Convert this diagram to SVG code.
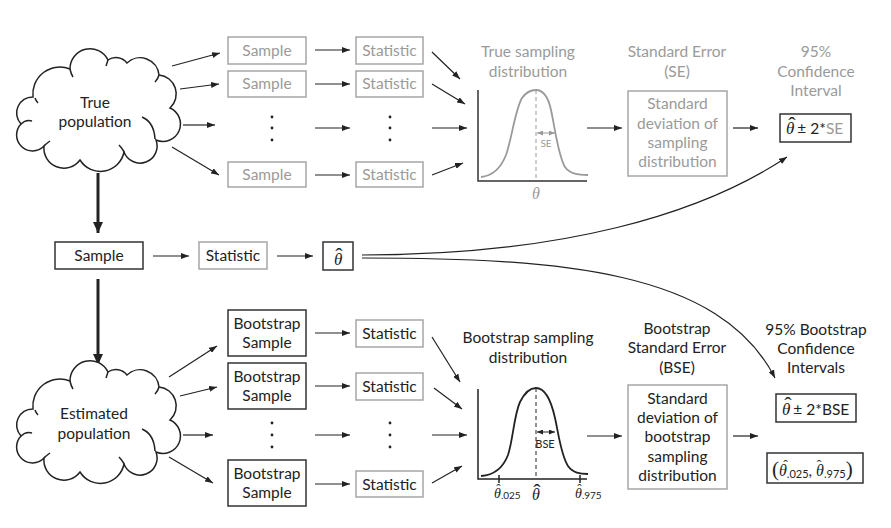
<svg xmlns="http://www.w3.org/2000/svg" width="891" height="528" viewBox="0 0 891 528">
<style>
text{font-family:Lato,"Open Sans","Liberation Sans",sans-serif;font-size:15.5px;text-anchor:middle;fill:#222}
.s{text-anchor:start}
.g{fill:#9a9a9a}
.m{font-family:"Liberation Serif","DejaVu Serif",serif;font-style:italic}
.h{font-family:"Liberation Serif","DejaVu Serif",serif;font-style:normal;font-size:22px}
.bx{fill:#fff;stroke:#333;stroke-width:1.5}
.gb{fill:#fff;stroke:#a6a6a6;stroke-width:1.5}
.ln{stroke:#222;stroke-width:1.2;fill:none;marker-end:url(#a)}
.tk{stroke:#222;stroke-width:3;fill:none;marker-end:url(#at)}
.cl{fill:#fff;stroke:#222;stroke-width:1.5}
.ci{fill:none;stroke:#222;stroke-width:1.5}
</style>
<defs>
<marker id="a" markerUnits="userSpaceOnUse" markerWidth="8" markerHeight="6" refX="8" refY="3" orient="auto"><path d="M0,0L8,3L0,6z" fill="#222"/></marker>
<marker id="at" markerUnits="userSpaceOnUse" markerWidth="11" markerHeight="10" refX="11" refY="5" orient="auto"><path d="M0,0L11,5L0,10z" fill="#222"/></marker>
<marker id="sg" markerUnits="userSpaceOnUse" markerWidth="6" markerHeight="5" refX="6" refY="2.5" orient="auto-start-reverse"><path d="M0,0L6,2.5L0,5z" fill="#9a9a9a"/></marker>
<marker id="sb" markerUnits="userSpaceOnUse" markerWidth="6" markerHeight="5" refX="6" refY="2.5" orient="auto-start-reverse"><path d="M0,0L6,2.5L0,5z" fill="#222"/></marker>
<g id="cloudshape">
<path class="cl" d="M33,97 A27,27 0 0 1 70,69 A20,20 0 0 1 108,60 A14,14 0 0 1 127,63 A19,19 0 0 1 159,75 A19,19 0 0 1 170,108 A17,17 0 0 1 156,140 A17,17 0 0 1 124,152 A24,24 0 0 1 80,160 A20,20 0 0 1 44,146 A15,15 0 0 1 21,124 A16,16 0 0 1 33,97 Z"/>
<path class="ci" d="M142,117 Q154,122 155,139"/>
<path class="ci" d="M21,124 Q26,119 32,121"/>
<path class="ci" d="M70,69 Q71,74 73,77"/>
<path class="ci" d="M108,60 Q107,63 106,66"/>
<path class="ci" d="M159,75 Q158,79 155,82"/>
<path class="ci" d="M44,146 Q47,143 50,141"/>
<path class="ci" d="M124,152 Q122,148 119,145"/>
<path class="ci" d="M35,98 Q36,101 38,103"/>
</g>
</defs>

<g id="connectors">
<line class="ln" x1="172" y1="66" x2="220" y2="53"/>
<line class="ln" x1="180" y1="89" x2="219" y2="84"/>
<line class="ln" x1="183" y1="125" x2="215" y2="125"/>
<line class="ln" x1="172" y1="147" x2="219" y2="175"/>
<line class="ln" x1="315" y1="50" x2="350" y2="50"/>
<line class="ln" x1="315" y1="84" x2="350" y2="84"/>
<line class="ln" x1="315" y1="128" x2="350" y2="128"/>
<line class="ln" x1="315" y1="175" x2="350" y2="175"/>
<line class="ln" x1="432" y1="52" x2="460" y2="79"/>
<line class="ln" x1="432" y1="84" x2="465" y2="104"/>
<line class="ln" x1="432" y1="128" x2="467" y2="128"/>
<line class="ln" x1="432" y1="175" x2="463" y2="163"/>
<line class="ln" x1="587" y1="128" x2="622" y2="128"/>
<line class="ln" x1="733" y1="128" x2="758" y2="128"/>
<line class="tk" x1="98" y1="173" x2="98" y2="233"/>
<line class="ln" x1="153" y1="256" x2="189" y2="256"/>
<line class="ln" x1="277" y1="256" x2="313" y2="256"/>
<line class="tk" x1="98" y1="279" x2="98" y2="365"/>
<path class="ln" d="M362,255 C560,255 700,215 787,157"/>
<path class="ln" d="M362,258 C560,258 720,270 775,378"/>
<line class="ln" x1="169" y1="377" x2="217" y2="346"/>
<line class="ln" x1="180" y1="396" x2="217" y2="387"/>
<line class="ln" x1="183" y1="435" x2="213" y2="435"/>
<line class="ln" x1="169" y1="457" x2="213" y2="483"/>
<line class="ln" x1="315" y1="333" x2="350" y2="333"/>
<line class="ln" x1="315" y1="386" x2="350" y2="386"/>
<line class="ln" x1="315" y1="435" x2="350" y2="435"/>
<line class="ln" x1="315" y1="484" x2="350" y2="484"/>
<line class="ln" x1="432" y1="337" x2="460" y2="382"/>
<line class="ln" x1="434" y1="388" x2="462" y2="409"/>
<line class="ln" x1="432" y1="435" x2="467" y2="435"/>
<line class="ln" x1="432" y1="483" x2="462" y2="466"/>
<line class="ln" x1="587" y1="436" x2="622" y2="436"/>
<line class="ln" x1="733" y1="436" x2="758" y2="436"/>
</g>

<g id="true-population">
<use href="#cloudshape"/>
<text x="95" y="108">True</text>
<text x="95" y="127">population</text>
</g>
<g id="estimated-population">
<use href="#cloudshape" transform="translate(0,312)"/>
<text x="94" y="419">Estimated</text>
<text x="94" y="439">population</text>
</g>

<g id="top-samples">
<rect class="gb" x="228" y="37" width="78" height="27"/><text class="g" x="267" y="56">Sample</text>
<rect class="gb" x="228" y="71" width="78" height="26"/><text class="g" x="267" y="89">Sample</text>
<rect class="gb" x="228" y="162" width="78" height="25"/><text class="g" x="267" y="180">Sample</text>
<circle cx="272" cy="117" r="1.4" fill="#222"/><circle cx="272" cy="128" r="1.4" fill="#222"/><circle cx="272" cy="140" r="1.4" fill="#222"/>
</g>
<g id="top-statistics">
<rect class="gb" x="356" y="37" width="67" height="27"/><text class="g" x="389.5" y="56">Statistic</text>
<rect class="gb" x="356" y="71" width="67" height="26"/><text class="g" x="389.5" y="89">Statistic</text>
<rect class="gb" x="356" y="162" width="67" height="25"/><text class="g" x="389.5" y="180">Statistic</text>
<circle cx="390" cy="117" r="1.4" fill="#222"/><circle cx="390" cy="128" r="1.4" fill="#222"/><circle cx="390" cy="140" r="1.4" fill="#222"/>
</g>

<g id="true-sampling-distribution">
<text class="g" x="528" y="57">True sampling</text>
<text class="g" x="528" y="77">distribution</text>
<path d="M481,177 C492,176 500,170 506,155 C512,138 515,110 522,98 C527,91 532,90 536,90 C543,90 548,96 551,110 C555,128 558,155 565,167 C570,174 578,175 588,175" fill="none" stroke="#9a9a9a" stroke-width="1.8"/>
<line x1="536" y1="90" x2="536" y2="181" stroke="#9a9a9a" stroke-width="1" stroke-dasharray="4,3"/>
<path d="M478,90 V181 H587" fill="none" stroke="#333" stroke-width="1.5"/>
<line x1="537" y1="133" x2="555" y2="133" stroke="#9a9a9a" stroke-width="1" marker-start="url(#sg)" marker-end="url(#sg)"/>
<text class="g" x="546" y="147" style="font-size:10px">SE</text>
<text class="g m" x="536" y="199" style="font-size:16px">θ</text>
</g>

<g id="standard-error">
<text class="g" x="677" y="57">Standard Error</text>
<text class="g" x="677" y="77">(SE)</text>
<rect class="gb" x="628" y="91" width="99" height="85"/>
<text class="g" x="677.5" y="109">Standard</text>
<text class="g" x="677.5" y="129">deviation of</text>
<text class="g" x="677.5" y="148">sampling</text>
<text class="g" x="677.5" y="167">distribution</text>
</g>

<g id="confidence-interval">
<text class="g" x="816" y="57">95%</text>
<text class="g" x="816" y="77">Confidence</text>
<text class="g" x="816" y="96">Interval</text>
<rect class="bx" x="780" y="114" width="71" height="28"/>
<text class="s" x="786" y="134"><tspan class="m" style="font-size:17px">θ</tspan><tspan dx="3">± 2*</tspan><tspan class="g">SE</tspan><tspan class="h" x="788.3" y="131.5">ˆ</tspan></text>
</g>

<g id="sample">
<rect class="bx" x="55" y="242" width="88" height="27"/>
<text x="99" y="261">Sample</text>
</g>
<g id="statistic">
<rect class="gb" x="199" y="242" width="68" height="27"/>
<text x="233" y="261">Statistic</text>
</g>
<g id="theta-hat">
<rect class="bx" x="323" y="242" width="30" height="28"/>
<text class="s" x="334" y="265"><tspan class="m" style="font-size:17px">θ</tspan><tspan class="h" x="335.3" y="263">ˆ</tspan></text>
</g>

<g id="bootstrap-samples">
<rect class="bx" x="228" y="310" width="78" height="46"/><text x="267" y="329">Bootstrap</text><text x="267" y="348">Sample</text>
<rect class="bx" x="228" y="363" width="78" height="46"/><text x="267" y="382">Bootstrap</text><text x="267" y="401">Sample</text>
<rect class="bx" x="228" y="460" width="78" height="46"/><text x="267" y="479">Bootstrap</text><text x="267" y="498">Sample</text>
<circle cx="272" cy="423" r="1.4" fill="#222"/><circle cx="272" cy="435" r="1.4" fill="#222"/><circle cx="272" cy="447" r="1.4" fill="#222"/>
</g>
<g id="bootstrap-statistics">
<rect class="gb" x="356" y="320" width="67" height="27"/><text x="389.5" y="339">Statistic</text>
<rect class="gb" x="356" y="373" width="67" height="27"/><text x="389.5" y="392">Statistic</text>
<rect class="gb" x="356" y="471" width="67" height="26"/><text x="389.5" y="490">Statistic</text>
<circle cx="390" cy="423" r="1.4" fill="#222"/><circle cx="390" cy="435" r="1.4" fill="#222"/><circle cx="390" cy="447" r="1.4" fill="#222"/>
</g>

<g id="bootstrap-sampling-distribution">
<text x="528" y="343">Bootstrap sampling</text>
<text x="528" y="363">distribution</text>
<path d="M481,476 C495,475 503,468 508,455 C513,440 514,415 520,402 C525,392 530,388 536,388 C545,388 551,400 555,418 C559,436 561,455 568,466 C573,473 580,474 588,474" fill="none" stroke="#222" stroke-width="1.8"/>
<line x1="536" y1="388" x2="536" y2="479" stroke="#222" stroke-width="1" stroke-dasharray="4,3"/>
<path d="M478,389 V479 H587" fill="none" stroke="#222" stroke-width="1.5"/>
<line x1="499" y1="475" x2="499" y2="483" stroke="#222" stroke-width="1.5"/>
<line x1="580" y1="475" x2="580" y2="483" stroke="#222" stroke-width="1.5"/>
<line x1="537" y1="432" x2="555" y2="432" stroke="#222" stroke-width="1" marker-start="url(#sb)" marker-end="url(#sb)"/>
<text x="545" y="448" style="font-size:11px">BSE</text>
<text class="s" x="494" y="498"><tspan class="m" style="font-size:14px">θ</tspan><tspan dy="1" style="font-size:10px">.025</tspan><tspan class="h" x="496.3" y="493" style="font-size:13px">ˆ</tspan></text>
<text class="s" x="532" y="500"><tspan class="m" style="font-size:16px">θ</tspan><tspan class="h" x="533.3" y="499">ˆ</tspan></text>
<text class="s" x="575" y="498"><tspan class="m" style="font-size:14px">θ</tspan><tspan dy="1" style="font-size:10px">.975</tspan><tspan class="h" x="577.3" y="493" style="font-size:13px">ˆ</tspan></text>
</g>

<g id="bootstrap-standard-error">
<text x="677" y="334">Bootstrap</text>
<text x="677" y="353">Standard Error</text>
<text x="677" y="373">(BSE)</text>
<rect class="gb" x="628" y="385" width="99" height="104"/>
<text x="677.5" y="404">Standard</text>
<text x="677.5" y="423">deviation of</text>
<text x="677.5" y="442">bootstrap</text>
<text x="677.5" y="462">sampling</text>
<text x="677.5" y="481">distribution</text>
</g>

<g id="bootstrap-confidence-intervals">
<text x="816" y="335">95% Bootstrap</text>
<text x="816" y="354">Confidence</text>
<text x="816" y="373">Intervals</text>
<rect class="bx" x="776" y="394" width="80" height="28"/>
<text class="s" x="782" y="415"><tspan class="m" style="font-size:17px">θ</tspan><tspan dx="3">± 2*BSE</tspan><tspan class="h" x="784.3" y="412">ˆ</tspan></text>
<rect class="bx" x="767" y="453" width="96" height="30"/>
<text class="s" x="772" y="476"><tspan style="font-size:21px;font-family:'Liberation Serif',serif">(</tspan><tspan class="m" style="font-size:16px">θ</tspan><tspan dy="2" style="font-size:11px">.025</tspan><tspan dy="-2">, </tspan><tspan class="m" style="font-size:16px">θ</tspan><tspan dy="2" style="font-size:11px">.975</tspan><tspan dy="-2" style="font-size:21px;font-family:'Liberation Serif',serif">)</tspan><tspan class="h" x="783.2" y="470" style="font-size:14px">ˆ</tspan><tspan class="h" x="816.7" y="470" style="font-size:14px">ˆ</tspan></text>
</g>
</svg>
